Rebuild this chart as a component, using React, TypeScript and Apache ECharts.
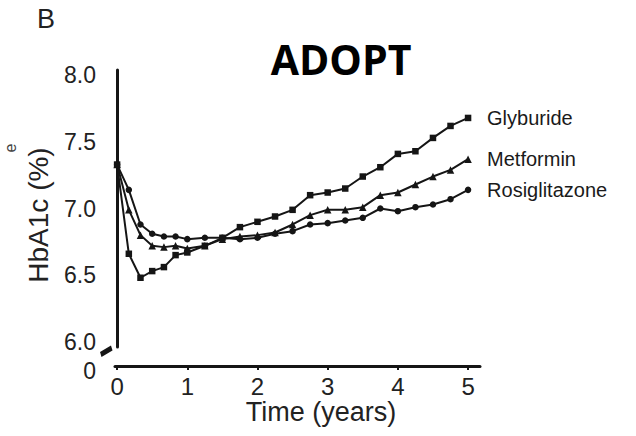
import React, { useEffect, useRef } from "react";
import * as echarts from "echarts";

// Time points (years): bimonthly in year 1, quarterly afterwards
const times = [0, 0.167, 0.333, 0.5, 0.667, 0.833, 1, 1.25, 1.5, 1.75, 2, 2.25, 2.5, 2.75, 3, 3.25, 3.5, 3.75, 4, 4.25, 4.5, 4.75, 5];

const glyburide = [7.33, 6.66, 6.48, 6.53, 6.56, 6.65, 6.67, 6.72, 6.78, 6.86, 6.9, 6.94, 6.99, 7.1, 7.12, 7.15, 7.24, 7.31, 7.41, 7.43, 7.53, 7.62, 7.68];
const metformin = [7.33, 6.99, 6.8, 6.72, 6.71, 6.72, 6.7, 6.72, 6.77, 6.79, 6.8, 6.82, 6.88, 6.95, 6.99, 6.99, 7.01, 7.1, 7.12, 7.18, 7.24, 7.29, 7.37];
const rosiglitazone = [7.33, 7.14, 6.88, 6.81, 6.79, 6.79, 6.77, 6.78, 6.78, 6.77, 6.78, 6.81, 6.83, 6.88, 6.89, 6.91, 6.93, 7.0, 6.98, 7.01, 7.03, 7.07, 7.14];

const seriesNames = ["Glyburide", "Metformin", "Rosiglitazone"];
const xTicks = [0, 1, 2, 3, 4, 5];
const yTicks = [6, 6.5, 7, 7.5, 8];
const yBreakLabel = "0";
const xTitle = "Time (years)";
const yTitle = "HbA1c (%)";
const chartTitle = "ADOPT";
const panelLetter = "B";
const neighbourFragment = "e";

const FONT = "'Liberation Sans', Arial, Helvetica, sans-serif";
const INK = "#151515";

export default function App() {
  const ref = useRef<HTMLDivElement>(null);

  useEffect(() => {
    if (!ref.current) return;
    const chart = echarts.init(ref.current, null, { renderer: "svg" });
    const mk = (vals: number[]) => times.map((t, i) => [t, vals[i]]);
    const symbols = ["rect", "triangle", "circle"];
    const sizes = [6.5, 7.5, 6.5];
    const datasets = [glyburide, metformin, rosiglitazone];

    chart.setOption({
      animation: false,
      backgroundColor: "#ffffff",
      textStyle: { fontFamily: FONT },
      grid: { left: 115, right: 156, top: 70, bottom: 89 },
      xAxis: {
        type: "value",
        min: -0.03,
        max: 5.17,
        offset: 19,
        splitLine: { show: false },
        axisLine: { show: true, lineStyle: { color: INK, width: 3 } },
        axisTick: { show: true, customValues: xTicks, length: 4, lineStyle: { color: INK, width: 2 } },
        axisLabel: {
          customValues: xTicks,
          fontSize: 24,
          color: "#222",
          margin: 8,
          fontFamily: FONT,
        },
      },
      yAxis: {
        type: "value",
        min: 5.96,
        max: 8.04,
        offset: 9,
        splitLine: { show: false },
        axisLine: { show: true, lineStyle: { color: INK, width: 3 } },
        axisTick: { show: false },
        axisLabel: {
          customValues: yTicks,
          formatter: (v: number) => v.toFixed(1),
          fontSize: 23,
          color: "#222",
          margin: 10,
          fontFamily: FONT,
        },
      },
      series: datasets.map((vals, k) => ({
        name: seriesNames[k],
        type: "line",
        data: mk(vals),
        symbol: symbols[k],
        symbolSize: sizes[k],
        showAllSymbol: true,
        lineStyle: { color: INK, width: 2 },
        itemStyle: { color: INK },
        endLabel: {
          show: true,
          formatter: "{a}",
          distance: 19,
          fontSize: 20,
          color: "#1a1a1a",
          fontFamily: FONT,
        },
        z: 3 - k,
      })),
      graphic: [
        {
          type: "text",
          x: 341,
          y: 38,
          style: {
            text: chartTitle,
            font: "bold 41px 'Open Sans', 'Liberation Sans', Arial, sans-serif",
            fill: "#000",
            textAlign: "center",
          },
        },
        {
          type: "text",
          x: 37,
          y: 5,
          style: { text: panelLetter, font: `27px ${FONT}`, fill: "#222" },
        },
        {
          type: "text",
          x: 10,
          y: 148,
          rotation: Math.PI / 2,
          style: { text: neighbourFragment, font: `16px ${FONT}`, fill: "#444", textAlign: "center", textVerticalAlign: "middle" },
        },
        {
          type: "text",
          x: 38,
          y: 215,
          rotation: Math.PI / 2,
          style: { text: yTitle, font: `28px ${FONT}`, fill: "#222", textAlign: "center", textVerticalAlign: "middle" },
        },
        {
          type: "text",
          x: 321,
          y: 412,
          style: { text: xTitle, font: `27px ${FONT}`, fill: "#222", textAlign: "center", textVerticalAlign: "middle" },
        },
        {
          type: "text",
          x: 96,
          y: 371,
          style: { text: yBreakLabel, font: `23px ${FONT}`, fill: "#222", textAlign: "right", textVerticalAlign: "middle" },
        },
        {
          type: "polygon",
          shape: { points: [[100, 352], [111, 345.5], [112.5, 350.5], [101.5, 357]] },
          style: { fill: INK },
        },
      ],
    });
    return () => chart.dispose();
  }, []);

  return (
    <div
      ref={ref}
      style={{ position: "fixed", left: 0, top: 0, width: 636, height: 436, background: "#fff" }}
    />
  );
}
